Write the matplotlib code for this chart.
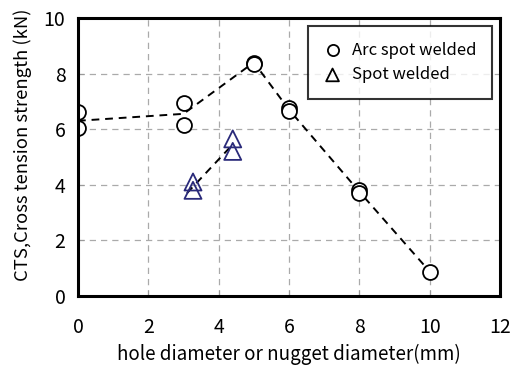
import matplotlib
matplotlib.use("Agg")
import matplotlib.pyplot as plt

plt.rcParams['font.family'] = ['Noto Sans CJK JP', 'DejaVu Sans']

# arc spot welded: individual points and mean line
arc_x = [0, 0, 3, 3, 5, 5, 6, 6, 8, 8, 10]
arc_y = [6.6, 6.05, 6.95, 6.15, 8.38, 8.35, 6.75, 6.65, 3.8, 3.7, 0.88]
arc_line_x = [0, 3, 5, 6, 8, 10]
arc_line_y = [6.3, 6.55, 8.4, 6.7, 3.75, 0.88]

# spot welded
spot_x = [3.27, 3.27, 4.4, 4.4]
spot_y = [4.1, 3.8, 5.65, 5.2]
spot_line_x = [3.1, 4.4]
spot_line_y = [3.7, 5.45]

fig = plt.figure(figsize=(5.11, 3.65), dpi=100)
ax = fig.add_axes([0.1526, 0.189, 0.826, 0.762])

ax.plot(arc_line_x, arc_line_y, '--', color='black', lw=1.4, dashes=(4, 3), zorder=2)
ax.plot(spot_line_x, spot_line_y, '--', color='black', lw=1.4, dashes=(4, 3), zorder=2)
ax.scatter(arc_x, arc_y, s=115, facecolors='white', edgecolors='black',
           linewidths=1.3, marker='o', zorder=3, label='Arc spot welded')
ax.scatter(spot_x, spot_y, s=150, facecolors='none', edgecolors='#2a2a7a',
           linewidths=1.3, marker='^', zorder=3, label='Spot welded')

ax.set_xlim(0, 12)
ax.set_ylim(0, 10)
ax.set_xticks(range(0, 13, 2))
ax.set_yticks(range(0, 11, 2))
ax.grid(True, linestyle=(0, (5, 4)), color='#aaaaaa', lw=0.9)
ax.set_axisbelow(True)
ax.tick_params(direction='in', length=4, color='#999999', labelsize=14)
ax.tick_params(axis='x', pad=15)
ax.tick_params(axis='y', pad=9)
for s in ax.spines.values():
    s.set_linewidth(2.2)
    s.set_zorder(5)

ax.set_xlabel('hole diameter or nugget diameter(mm)', fontsize=13.5, labelpad=4)
ax.set_ylabel('CTS,Cross tension strength (kN)', fontsize=13.3)
ax.yaxis.set_label_coords(-0.108, 0.545)

leg = ax.legend(loc='upper right', bbox_to_anchor=(0.981, 0.971), fontsize=12,
                frameon=True, fancybox=False, edgecolor='black',
                handletextpad=0.65, borderpad=0.95, labelspacing=0.45,
                handlelength=1.0, markerscale=0.75, borderaxespad=0)
leg.get_frame().set_linewidth(1.5)
for h in leg.legend_handles:
    h.set_edgecolor('black')

fig.savefig('out.png', dpi=100)
